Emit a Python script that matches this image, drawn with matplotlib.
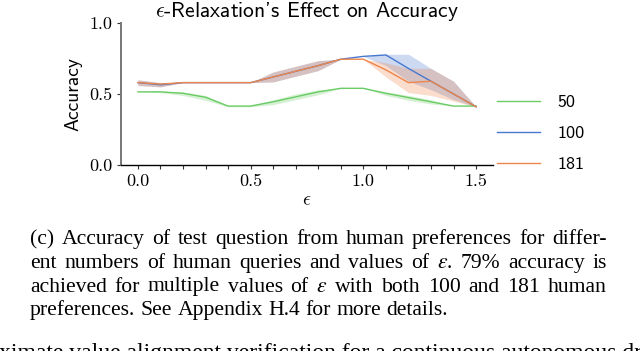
import matplotlib
matplotlib.use("Agg")
import matplotlib.pyplot as plt

plt.rcParams["mathtext.fontset"] = "cm"

W, H = 640, 351

EPS = [0.0, 0.1, 0.2, 0.3, 0.4, 0.5, 0.6, 0.7, 0.8, 0.9, 1.0, 1.1, 1.2, 1.3, 1.4, 1.5]

# mean accuracy per number of human queries
ACC_50 = [0.515, 0.515, 0.505, 0.477, 0.415, 0.415, 0.445, 0.48, 0.515, 0.54, 0.54, 0.505, 0.475, 0.445, 0.415, 0.415]
ACC_100 = [0.58, 0.565, 0.58, 0.58, 0.58, 0.58, 0.62, 0.66, 0.70, 0.745, 0.765, 0.775, 0.68, 0.59, 0.50, 0.41]
ACC_181 = [0.58, 0.57, 0.58, 0.58, 0.58, 0.58, 0.62, 0.66, 0.70, 0.745, 0.745, 0.67, 0.58, 0.59, 0.50, 0.41]

# confidence bands (lower / upper)
LO_50 = [0.515, 0.51, 0.49, 0.455, 0.41, 0.41, 0.425, 0.46, 0.495, 0.54, 0.54, 0.49, 0.455, 0.43, 0.415, 0.415]
HI_50 = [0.515, 0.52, 0.515, 0.49, 0.42, 0.42, 0.46, 0.50, 0.53, 0.54, 0.54, 0.515, 0.49, 0.46, 0.415, 0.415]
LO_100 = [0.56, 0.55, 0.58, 0.58, 0.58, 0.58, 0.585, 0.625, 0.665, 0.745, 0.765, 0.70, 0.59, 0.53, 0.46, 0.41]
HI_100 = [0.60, 0.58, 0.58, 0.58, 0.58, 0.58, 0.655, 0.695, 0.735, 0.745, 0.765, 0.78, 0.78, 0.68, 0.59, 0.41]
LO_181 = [0.56, 0.55, 0.58, 0.58, 0.58, 0.58, 0.585, 0.625, 0.665, 0.745, 0.745, 0.62, 0.51, 0.49, 0.45, 0.41]
HI_181 = [0.60, 0.58, 0.58, 0.58, 0.58, 0.58, 0.655, 0.695, 0.735, 0.745, 0.745, 0.72, 0.68, 0.68, 0.59, 0.41]

SERIES = [
    ("50", ACC_50, LO_50, HI_50, "#6acc64"),
    ("100", ACC_100, LO_100, HI_100, "#4878d0"),
    ("181", ACC_181, LO_181, HI_181, "#ee854a"),
]

X_TICKS = [0.0, 0.5, 1.0, 1.5]
X_TICK_LABELS = ["0.0", "0.5", "1.0", "1.5"]
Y_TICKS = [0.0, 0.5, 1.0]
Y_TICK_LABELS = ["0.0", "0.5", "1.0"]

CAPTION = [
    "(c) Accuracy of test question from human preferences for differ-",
    "ent numbers of human queries and values of $\\epsilon$. 79% accuracy is",
    "achieved for multiple values of $\\epsilon$ with both 100 and 181 human",
    "preferences. See Appendix H.4 for more details.",
]
BODY_LINE = "ximate value alignment verification for a continuous autonomous driving"

fig = plt.figure(figsize=(W / 100, H / 100), dpi=100)
ax = fig.add_axes([121 / W, 1 - 165 / H, 372 / W, 142 / H])

for label, acc, lo, hi, color in SERIES:
    ax.fill_between(EPS, lo, hi, color=color, alpha=0.28, linewidth=0)
for label, acc, lo, hi, color in SERIES:
    ax.plot(EPS, acc, color=color, lw=1.0, label=label)

ax.set_ylim(0, 1)
ax.set_xticks(X_TICKS, labels=X_TICK_LABELS)
ax.set_xticks(EPS, minor=True)
ax.set_yticks(Y_TICKS, labels=Y_TICK_LABELS)
for t in ax.get_xticklabels() + ax.get_yticklabels():
    t.set_fontfamily("cmr10")
    t.set_fontsize(13)
ax.tick_params(which="both", length=3, width=0.8, color="#333333", pad=3)

for s in ("top", "right"):
    ax.spines[s].set_visible(False)
ax.spines["left"].set_color("#777777")
ax.spines["left"].set_linewidth(1.4)
ax.spines["bottom"].set_linewidth(1.0)

ax.set_title("$\\epsilon$-Relaxation's Effect on Accuracy", fontfamily="cmss10",
             fontsize=15.5, pad=4)
ax.set_ylabel("Accuracy", fontfamily="cmss10", fontsize=14, labelpad=5)
ax.set_xlabel("$\\epsilon$", fontsize=14, labelpad=1)

leg = ax.legend(loc="center left", bbox_to_anchor=(1.01, 0.225), frameon=False,
                borderaxespad=0, borderpad=0, handlelength=2.4, handletextpad=0.95,
                labelspacing=0.85, prop={"family": "cmss10", "size": 13})

# caption, justified between x=30 and x=607 px
renderer = fig.canvas.get_renderer()
serif = "Liberation Serif"
cap_size = 15.6
left_px, right_px = 30, 607
baselines = [244, 268, 291.5, 315]


def word_width(word):
    t = fig.text(0, 0, word, fontfamily=serif, fontsize=cap_size, math_fontfamily="stix")
    w = t.get_window_extent(renderer).width
    t.remove()
    return w


space = word_width("x x") - word_width("xx")
for i, (line, base) in enumerate(zip(CAPTION, baselines)):
    words = line.split(" ")
    widths = [word_width(w) for w in words]
    if i < len(CAPTION) - 1:
        gap = (right_px - left_px - sum(widths)) / (len(words) - 1)
    else:
        gap = space
    x = left_px
    for w, wd in zip(words, widths):
        fig.text(x / W, 1 - base / H, w, fontfamily=serif, fontsize=cap_size,
                 math_fontfamily="stix", va="baseline", ha="left")
        x += wd + gap

fig.text(-1 / W, 1 - 359 / H, BODY_LINE, fontfamily=serif, fontsize=17,
         va="baseline", ha="left")

fig.savefig("out.png", dpi=100, facecolor="white")
